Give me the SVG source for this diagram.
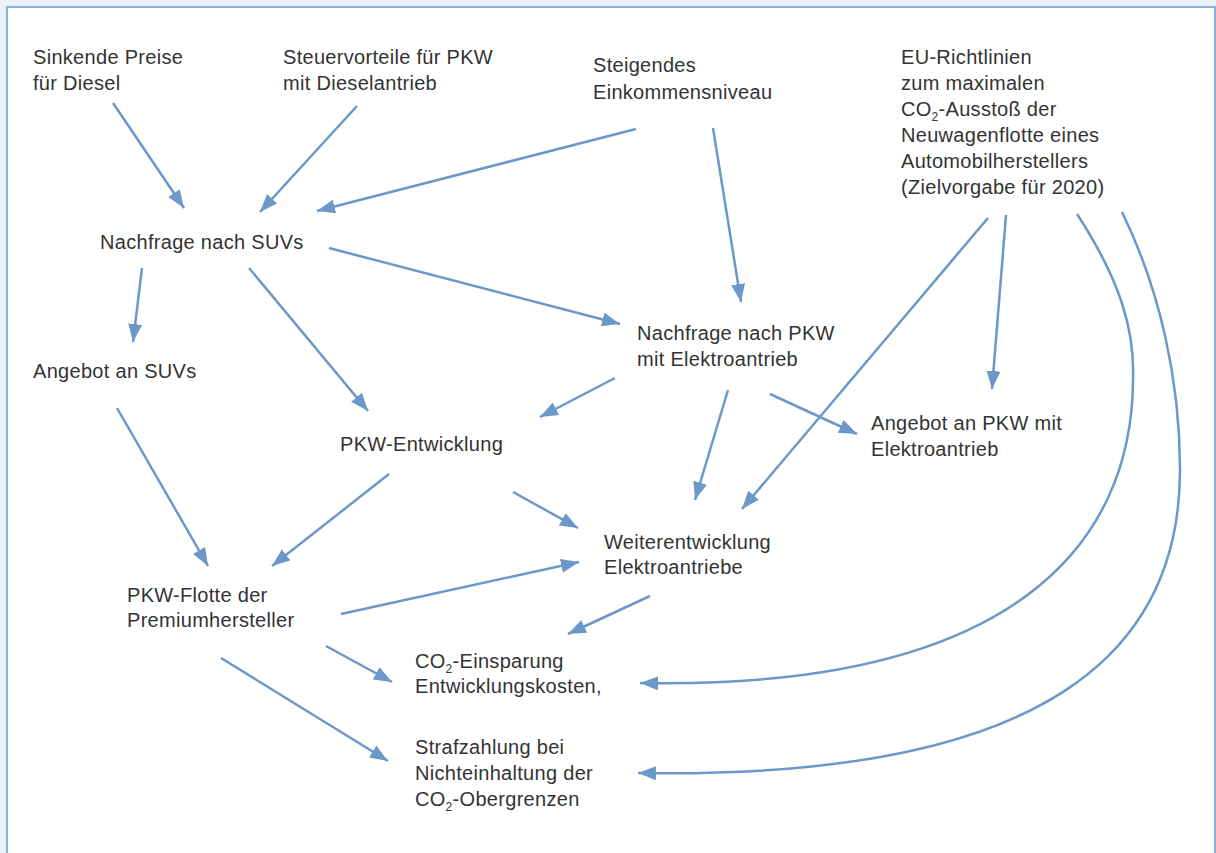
<svg xmlns="http://www.w3.org/2000/svg" width="1216" height="853" viewBox="0 0 1216 853">
<style>
.t{font-family:"Liberation Sans","DejaVu Sans",sans-serif;font-size:20px;letter-spacing:0.3px;fill:#333}
.s{font-size:12px}
.c{fill:none;stroke:#6b98c9;stroke-width:2.5}
</style>
<defs>
<marker id="a" markerUnits="userSpaceOnUse" markerWidth="20" markerHeight="16" refX="18" refY="7" orient="auto">
<path d="M0,0 L18,7 L0,14 Z" fill="#6b98c9"/>
</marker>
</defs>
<rect x="0" y="0" width="1216" height="853" fill="#eaf0f8"/>
<rect x="7" y="7" width="1208" height="870" fill="#fff" stroke="#8db0da" stroke-width="2"/>
<g id="n1"><text class="t" x="33" y="64">Sinkende Preise</text><text class="t" x="33" y="90">für Diesel</text></g>
<g id="n2"><text class="t" x="283" y="64">Steuervorteile für PKW</text><text class="t" x="283" y="90">mit Dieselantrieb</text></g>
<g id="n3"><text class="t" x="593" y="72">Steigendes</text><text class="t" x="593" y="99">Einkommensniveau</text></g>
<g id="n4"><text class="t" x="901" y="64">EU-Richtlinien</text><text class="t" x="901" y="90">zum maximalen</text><text class="t" x="901" y="116">CO<tspan class="s" dy="5">2</tspan><tspan dy="-5">-Ausstoß der</tspan></text><text class="t" x="901" y="142">Neuwagenflotte eines</text><text class="t" x="901" y="168">Automobilherstellers</text><text class="t" x="901" y="194">(Zielvorgabe für 2020)</text></g>
<g id="n5"><text class="t" x="100" y="249">Nachfrage nach SUVs</text></g>
<g id="n6"><text class="t" x="33" y="378">Angebot an SUVs</text></g>
<g id="n7"><text class="t" x="637" y="340">Nachfrage nach PKW</text><text class="t" x="637" y="366">mit Elektroantrieb</text></g>
<g id="n8"><text class="t" x="340" y="451">PKW-Entwicklung</text></g>
<g id="n9"><text class="t" x="871" y="430">Angebot an PKW mit</text><text class="t" x="871" y="456">Elektroantrieb</text></g>
<g id="n10"><text class="t" x="604" y="549">Weiterentwicklung</text><text class="t" x="604" y="574">Elektroantriebe</text></g>
<g id="n11"><text class="t" x="127" y="602">PKW-Flotte der</text><text class="t" x="127" y="627">Premiumhersteller</text></g>
<g id="n12"><text class="t" x="415" y="668">CO<tspan class="s" dy="5">2</tspan><tspan dy="-5">-Einsparung</tspan></text><text class="t" x="415" y="693">Entwicklungskosten,</text></g>
<g id="n13"><text class="t" x="415" y="754">Strafzahlung bei</text><text class="t" x="415" y="780">Nichteinhaltung der</text><text class="t" x="415" y="806">CO<tspan class="s" dy="5">2</tspan><tspan dy="-5">-Obergrenzen</tspan></text></g>
<g id="edges">
<path class="c" marker-end="url(#a)" d="M113,103 L184,208"/>
<path class="c" marker-end="url(#a)" d="M357,106 L260,212"/>
<path class="c" marker-end="url(#a)" d="M636,129 L317,211"/>
<path class="c" marker-end="url(#a)" d="M713,128 L741,302"/>
<path class="c" marker-end="url(#a)" d="M329,248 L620,324"/>
<path class="c" marker-end="url(#a)" d="M142,268 L133,342"/>
<path class="c" marker-end="url(#a)" d="M249,268 L368,411"/>
<path class="c" marker-end="url(#a)" d="M615,378 L540,417"/>
<path class="c" marker-end="url(#a)" d="M117,408 L208,566"/>
<path class="c" marker-end="url(#a)" d="M389,474 L272,566"/>
<path class="c" marker-end="url(#a)" d="M513,492 L578,528"/>
<path class="c" marker-end="url(#a)" d="M728,390 L695,500"/>
<path class="c" marker-end="url(#a)" d="M988,218 L742,509"/>
<path class="c" marker-end="url(#a)" d="M1006,215 L992,389"/>
<path class="c" marker-end="url(#a)" d="M770,394 L857,434"/>
<path class="c" marker-end="url(#a)" d="M341,614 L579,562"/>
<path class="c" marker-end="url(#a)" d="M650,596 L568,634"/>
<path class="c" marker-end="url(#a)" d="M326,646 L392,682"/>
<path class="c" marker-end="url(#a)" d="M221,658 L388,761"/>
<path class="c" marker-end="url(#a)" d="M1077,214 C1120,280 1135,330 1133,380 C1132,540 1020,690 640,683"/>
<path class="c" marker-end="url(#a)" d="M1122,212 C1160,290 1180,380 1180,470 C1180,650 1050,780 638,773"/>
</g>
</svg>
